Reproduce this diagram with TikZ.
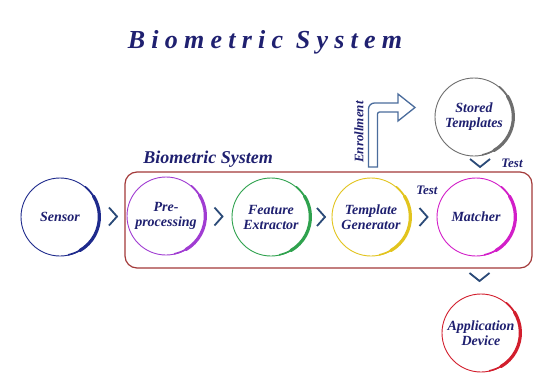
\documentclass[tikz,border=0pt]{standalone}
\usepackage{fontspec}
\setmainfont{Liberation Serif}
\usetikzlibrary{calc}
\definecolor{navyText}{HTML}{1F2070}
\definecolor{sensorBlue}{HTML}{1E2A8C}
\definecolor{prepPurple}{HTML}{A03CD2}
\definecolor{featGreen}{HTML}{2FA24E}
\definecolor{tgenYellow}{HTML}{E2C41E}
\definecolor{matchPink}{HTML}{D21EC8}
\definecolor{storeGray}{HTML}{6E6E6E}
\definecolor{appRed}{HTML}{D21E2D}
\definecolor{boxRed}{HTML}{A33A3A}
\definecolor{chevBlue}{HTML}{2B4A78}
\definecolor{enrollBlue}{HTML}{4A6C9C}

% thick brush stroke on the right side of a stage circle
\newcommand{\brush}[2]{%
  \draw[#2, line width=1.6pt, line cap=round] (#1.50) arc[start angle=50, end angle=-78, radius=39pt];
  \draw[#2, line width=3.2pt, line cap=round] (#1.32) arc[start angle=32, end angle=-60, radius=39pt];}

\begin{document}
\begin{tikzpicture}[x=1pt, y=1pt,
  stagecirc/.style={circle, draw=#1, line width=0.9pt, minimum size=78pt, inner sep=0pt, align=center, text=navyText, font=\fontsize{14}{15}\selectfont\bfseries\itshape},
  chev/.style={chevBlue, line width=1.8pt},
  lbl/.style={text=navyText, font=\fontsize{13}{15}\selectfont\bfseries\itshape},
  sysbox/.style={draw=boxRed, line width=1.2pt, rounded corners=12pt}
]
\useasboundingbox[fill=white] (0,0) rectangle (541,384);

\node[text=navyText, font=\fontsize{26}{30}\selectfont\bfseries\itshape] (title) at (265,342) {\addfontfeature{LetterSpace=24}Biometric System};

% system frame
\draw[sysbox] (125,116) rectangle (532,212);
\node[lbl, font=\fontsize{18}{20}\selectfont\bfseries\itshape] (systitle) at (208,225) {Biometric System};

% stages
\node[stagecirc=sensorBlue] (sensor) at (60,167) {Sensor};
\node[stagecirc=prepPurple] (prep) at (166,168) {Pre-\\processing};
\node[stagecirc=featGreen] (feat) at (271,167) {Feature\\Extractor};
\node[stagecirc=tgenYellow] (tgen) at (371,167) {Template\\Generator};
\node[stagecirc=matchPink] (match) at (476,167) {Matcher};
\node[stagecirc=storeGray] (stored) at (474,267) {Stored\\Templates};
\node[stagecirc=appRed] (appdev) at (481,51) {Application\\Device};

\brush{sensor}{sensorBlue}
\brush{prep}{prepPurple}
\brush{feat}{featGreen}
\brush{tgen}{tgenYellow}
\brush{match}{matchPink}
\brush{stored}{storeGray}
\brush{appdev}{appRed}

% chevrons between stages
\draw[chev] ($(sensor)!.5!(prep)$) +(-4,9) -- +(4,0) -- +(-4,-9);
\draw[chev] ($(prep)!.5!(feat)$) +(-4,9) -- +(4,0) -- +(-4,-9);
\draw[chev] ($(feat)!.5!(tgen)$) +(-4,9) -- +(4,0) -- +(-4,-9);
\draw[chev] ($(tgen)!.5!(match)$) +(-4,9) -- +(4,0) -- +(-4,-9);
\draw[chev] ($(stored)!.5!(match)$) ++(5,4) +(-10,4) -- +(0,-4) -- +(10,4);
\draw[chev] ($(match)!.5!(appdev)$) ++(1,-2) +(-10,4) -- +(0,-4) -- +(10,4);

\node[lbl] (test1) at (512,221) {Test};
\node[lbl] (test2) at (427,194) {Test};

% enrollment arrow
\draw[enrollBlue, line width=1.3pt, fill=white]
  (368.5,217) -- (368.5,275) arc[start angle=180, end angle=90, radius=6]
  -- (398,281) -- (398,290) -- (415,276.5) -- (398,263) -- (398,272)
  -- (379.5,272) arc[start angle=90, end angle=180, radius=2] -- (377.5,217) -- cycle;
\node[lbl, rotate=90] (enroll) at (359,252) {Enrollment};
\end{tikzpicture}
\end{document}
